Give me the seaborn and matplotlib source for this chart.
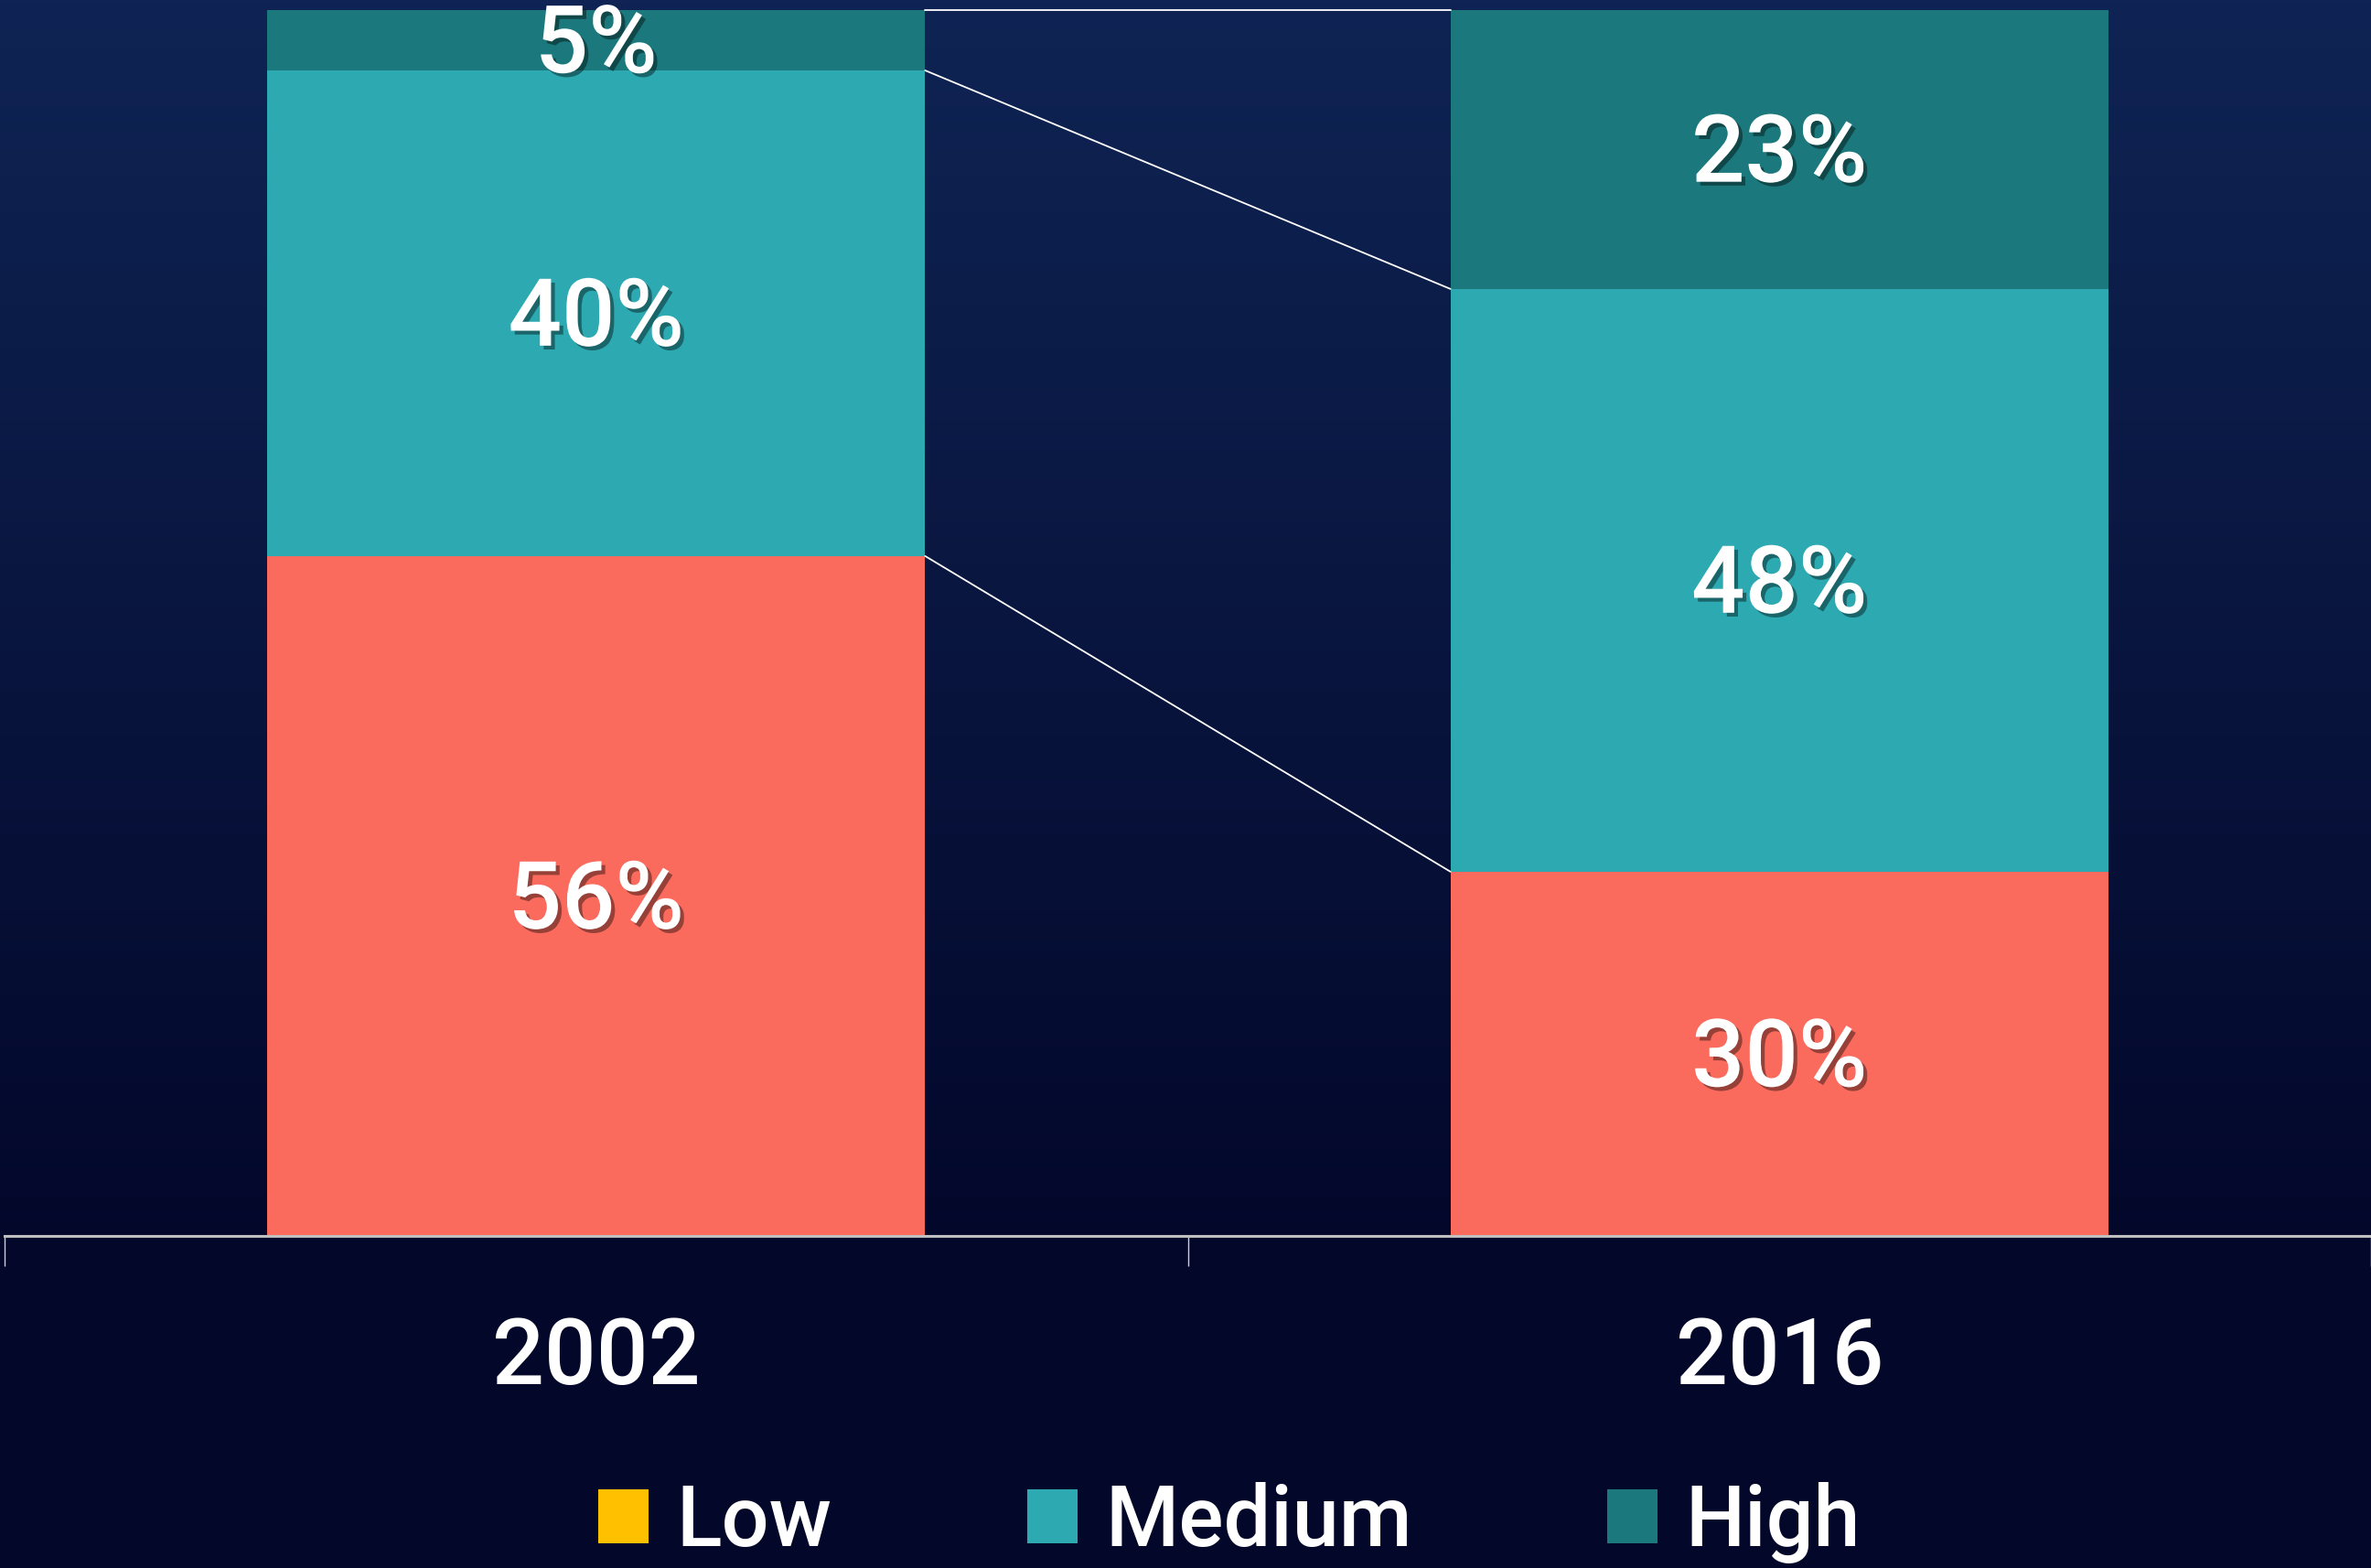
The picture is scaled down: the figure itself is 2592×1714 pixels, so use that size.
import numpy as np
import pandas as pd
import matplotlib
matplotlib.use("Agg")
import matplotlib.pyplot as plt
import matplotlib.patheffects as pe
from matplotlib.patches import Patch
from matplotlib.colors import to_rgb
import seaborn as sns

# ---- data ----
years = ["2002", "2016"]
low = [56, 30]
medium = [40, 48]
high = [5, 23]
series_names = ["Low", "Medium", "High"]
bar_colors = ["#FA6B5E", "#2CA9B1", "#1B787C"]
legend_colors = ["#FFC000", "#2CA9B1", "#1B787C"]

sns.set_theme(style="white")
plt.rcParams['font.family'] = ['Roboto', 'DejaVu Sans']
plt.rcParams['font.weight'] = 'medium'

W, H = 2592, 1714
fig = plt.figure(figsize=(W / 100, H / 100), dpi=100)

# background gradient
bg = fig.add_axes([0, 0, 1, 1], zorder=-10)
top_c = np.array(to_rgb("#0F2454"))
bot_c = np.array(to_rgb("#03072A"))
t = np.clip(np.linspace(0, 1, 400) / 0.8, 0, 1)[:, None]
grad = (top_c[None, :] * (1 - t) + bot_c[None, :] * t)[:, None, :]
bg.imshow(grad, aspect="auto", extent=[0, 1, 0, 1], origin="upper")
bg.axis("off")

ax = fig.add_axes([5 / W, 363 / H, 1 - 5 / W, 1351 / H])
ax.set_facecolor("none")

df = pd.DataFrame({"Year": years, "Low": low, "Medium": medium, "High": high})
bw = 0.556
bottoms = np.zeros(len(years))
cum_tops = []
for name, col in zip(series_names, bar_colors):
    vals = df[name].to_numpy(dtype=float)
    sns.barplot(data=df, x="Year", y=name, bottom=bottoms.copy(), color=col,
                width=bw, saturation=1, linewidth=0, errorbar=None, ax=ax)
    for i, v in enumerate(vals):
        ax.annotate(f"{int(v)}%", xy=(i, bottoms[i] + v / 2), xytext=(0, -5),
                    textcoords="offset points", ha="center", va="center",
                    fontsize=74, color="white", zorder=5,
                    path_effects=[pe.withSimplePatchShadow(offset=(3, -3), shadow_rgbFace="black", alpha=0.4)])
    bottoms = bottoms + vals
    cum_tops.append(bottoms.copy())

# series connector lines
for ct in cum_tops:
    ax.plot([0 + bw / 2, 1 - bw / 2], [ct[0], ct[1]], color="white", lw=1.3, zorder=4)

ax.set_xlim(-0.5, 1.5)
ax.set_ylim(0, 101.8)
ax.set_xlabel("")
ax.set_ylabel("")
ax.set_yticks([])
ax.set_xticks([0, 1], labels=years)
ax.set_xticks([-0.5, 0.5, 1.5], minor=True)
ax.tick_params(axis="x", which="major", length=0, pad=63, labelsize=72, labelcolor="white")
ax.tick_params(axis="x", which="minor", length=24, width=1.0, color="#D0D0D0", direction="out", bottom=True)
for s in ["left", "right", "top"]:
    ax.spines[s].set_visible(False)
ax.spines["bottom"].set_color("#BFBFBF")
ax.spines["bottom"].set_linewidth(2.2)

handles = [Patch(facecolor=c, edgecolor="none", label=n) for n, c in zip(series_names, legend_colors)]
fig.legend(handles=handles, loc="center", bbox_to_anchor=(0.5185, 0.029), ncol=3, frameon=False,
           fontsize=66, handlelength=0.6, handleheight=0.6, handletextpad=0.33,
           columnspacing=2.33, labelcolor="white")

fig.savefig("out.png", dpi=100, facecolor=fig.get_facecolor())
